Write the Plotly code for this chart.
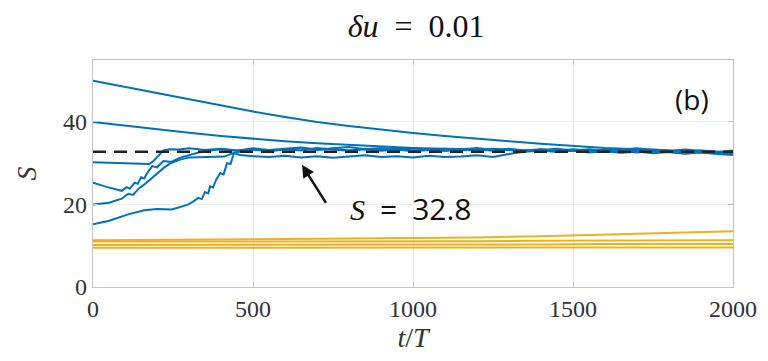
import plotly.graph_objects as go

# ---------------- data ----------------
TAIL_A = list(range(550, 2001, 50))
TAIL_B1 = list(range(550, 1301, 50))
TAIL_B2 = list(range(1350, 2001, 50))

t_b1 = [0, 100, 200, 300, 400, 500, 600, 700, 800, 900, 1000, 1100, 1200, 1300, 1400, 1500, 1600, 1700, 1800, 1900, 2000]
s_b1 = [50, 48.5, 46.9, 45.4, 43.9, 42.5, 41.2, 40.0, 39.0, 38.1, 37.3, 36.6, 35.9, 35.3, 34.7, 34.2, 33.7, 33.4, 33.1, 32.9, 32.6]

t_b2 = [0, 100, 200, 300, 400, 500, 600, 700, 800, 900, 1000, 1100, 1200, 1300, 1400, 1500, 1600, 1700, 1800, 1900, 2000]
s_b2 = [40, 39.1, 38.2, 37.4, 36.6, 35.9, 35.3, 34.8, 34.4, 34.0, 33.7, 33.5, 33.3, 33.2, 33.1, 33.0, 32.9, 32.8, 32.8, 32.7, 32.5]

t_b3 = [0, 50, 100, 150, 175, 190, 200, 210, 220, 240, 270, 300, 350, 400, 450, 500] + TAIL_A
s_b3 = [30.2, 30.1, 30.0, 29.9, 29.8, 30.6, 31.5, 32.4, 33.1, 33.4, 33.3, 33.6, 33.2, 33.5, 33.1, 33.4,
        33.0, 33.3, 33.6, 33.2, 33.5, 33.1, 33.4, 33.0, 33.3, 32.9,
        33.2, 33.5, 33.1, 33.4, 33.0, 33.3, 32.9, 33.2, 33.5, 33.1,
        33.4, 33.0, 33.3, 33.6, 33.2, 32.9, 33.3, 33.0, 32.7, 33.1]

t_b4 = [0, 45, 90, 105, 115, 130, 140, 150, 160, 170, 185, 200, 220, 245, 270, 300, 330, 360, 400, 450, 500] + TAIL_A
s_b4 = [25.3, 24.2, 23.3, 24.2, 23.8, 25.3, 25.0, 26.6, 26.3, 27.7, 29.3, 29.0, 30.5, 30.3, 31.3, 32.0, 32.6, 33.0, 33.4, 33.0, 33.6,
        33.2, 33.5, 33.8, 33.3, 33.6, 33.9, 33.4, 33.7, 33.2, 33.6,
        33.3, 33.0, 33.4, 33.1, 33.5, 33.2, 32.9, 33.3, 33.0, 33.4,
        33.1, 32.8, 33.2, 32.9, 33.3, 33.0, 32.7, 33.1, 32.8, 32.5]

t_b5 = [0, 50, 90, 110, 125, 145, 160, 180, 200, 220, 240, 270, 300, 350, 410, 440, 480, 500] + TAIL_A
s_b5 = [20.0, 20.4, 21.4, 22.6, 22.3, 24.0, 24.8, 26.2, 27.6, 28.8, 29.9, 30.8, 31.4, 31.5, 31.6, 32.5, 33.0, 33.3,
        32.9, 33.4, 33.1, 33.7, 33.3, 33.0, 33.5, 33.2, 33.6, 33.1,
        33.4, 33.0, 33.3, 33.7, 33.2, 33.5, 33.1, 33.4, 33.0, 33.2,
        32.9, 33.3, 33.0, 32.6, 33.0, 32.7, 32.4, 32.8, 32.5, 32.2]

t_b6 = [0, 48, 110, 160, 200, 246, 270, 298, 315, 329, 340, 350, 360, 366, 375, 385, 398, 408, 419, 430, 440, 460, 500] + TAIL_B1 + TAIL_B2
s_b6 = [15.2, 16.0, 17.6, 18.6, 18.9, 18.8, 19.3, 20.0, 20.8, 21.6, 21.3, 23.0, 22.7, 24.4, 24.1, 26.0, 27.6, 27.3, 30.0, 29.8, 32.4, 32.0, 31.7,
        31.5, 31.8, 31.4, 31.7, 31.3, 31.6, 31.9, 31.5, 31.7, 31.4, 31.8, 31.5, 31.6, 31.9, 31.5, 32.2,
        32.8, 33.1, 32.7, 33.0, 32.6, 32.9, 32.5, 32.8, 32.4, 32.7, 32.3, 32.6, 32.2, 32.0]

t_o = [0, 400, 800, 1200, 1400, 1600, 1800, 2000]
s_o1 = [11.3, 11.5, 11.8, 12.0, 12.3, 12.7, 13.1, 13.5]
s_o2 = [11.0, 11.0, 11.1, 11.1, 11.2, 11.2, 11.3, 11.3]
s_o3 = [10.2, 10.2, 10.3, 10.3, 10.3, 10.4, 10.4, 10.4]
s_o4 = [9.5, 9.5, 9.5, 9.6, 9.6, 9.6, 9.6, 9.6]

S_REF = 32.8
x_ticks = [0, 500, 1000, 1500, 2000]
y_ticks = [0, 20, 40]

BLUE = "#0072BD"
ORANGE = "#EDB120"
SERIF = "Liberation Serif, Times New Roman, DejaVu Serif, serif"

# ---------------- figure ----------------
fig = go.Figure()
for tt, ss in [(t_o, s_o1), (t_o, s_o2), (t_o, s_o3), (t_o, s_o4)]:
    fig.add_trace(go.Scatter(x=tt, y=ss, mode="lines", line=dict(color=ORANGE, width=2), showlegend=False))
for tt, ss in [(t_b1, s_b1), (t_b2, s_b2), (t_b3, s_b3), (t_b4, s_b4), (t_b5, s_b5), (t_b6, s_b6)]:
    fig.add_trace(go.Scatter(x=tt, y=ss, mode="lines", line=dict(color=BLUE, width=2), showlegend=False))
fig.add_trace(go.Scatter(x=[0, 2000], y=[S_REF, S_REF], mode="lines",
                         line=dict(color="#222222", width=2.5, dash="13px,8px"), showlegend=False))

axis_common = dict(showline=True, linecolor="#c4c4c4", linewidth=1.2, mirror="ticks",
                   ticks="inside", ticklen=5, tickcolor="#c4c4c4",
                   showgrid=True, gridcolor="#ebebeb", gridwidth=1, zeroline=False,
                   tickfont=dict(family=SERIF, size=24, color="#333333"))

fig.update_xaxes(range=[0, 2000], tickvals=x_ticks, ticktext=[str(v) for v in x_ticks],
                 title=dict(text="<i>t</i>/<i>T</i>", font=dict(family=SERIF, size=28, color="#333333"),
                            standoff=6),
                 **axis_common)
fig.update_yaxes(range=[0, 55], tickvals=y_ticks, ticktext=[str(v) for v in y_ticks],
                 title=dict(text="<i>S</i>", font=dict(family=SERIF, size=28, color="#333333"),
                            standoff=18),
                 **axis_common)

fig.add_annotation(x=653, y=29.6, ax=731, ay=20, xref="x", yref="y", axref="x", ayref="y",
                   showarrow=True, arrowhead=2, arrowsize=1, arrowwidth=2.5, arrowcolor="#111111", text="")
fig.add_annotation(x=995, y=18.9, xref="x", yref="y", showarrow=False,
                   text="<span style='font-family:Liberation Serif'><i>S</i></span>\u2002=\u200232.8",
                   font=dict(family="Open Sans, sans-serif", size=30, color="#111111"))
fig.add_annotation(x=1873, y=45.5, xref="x", yref="y", showarrow=False,
                   text="(b)", font=dict(family="Open Sans, sans-serif", size=28, color="#111111"))

fig.update_layout(
    width=760, height=353,
    margin=dict(l=85, r=35, t=52, b=74),
    paper_bgcolor="white", plot_bgcolor="white",
    title=dict(text="<i>δu</i>\u2002=\u20020.01", x=0.537, xanchor="center", y=0.95, yanchor="middle",
               font=dict(family=SERIF, size=32, color="#111111")),
)

fig.write_html("out.html")
